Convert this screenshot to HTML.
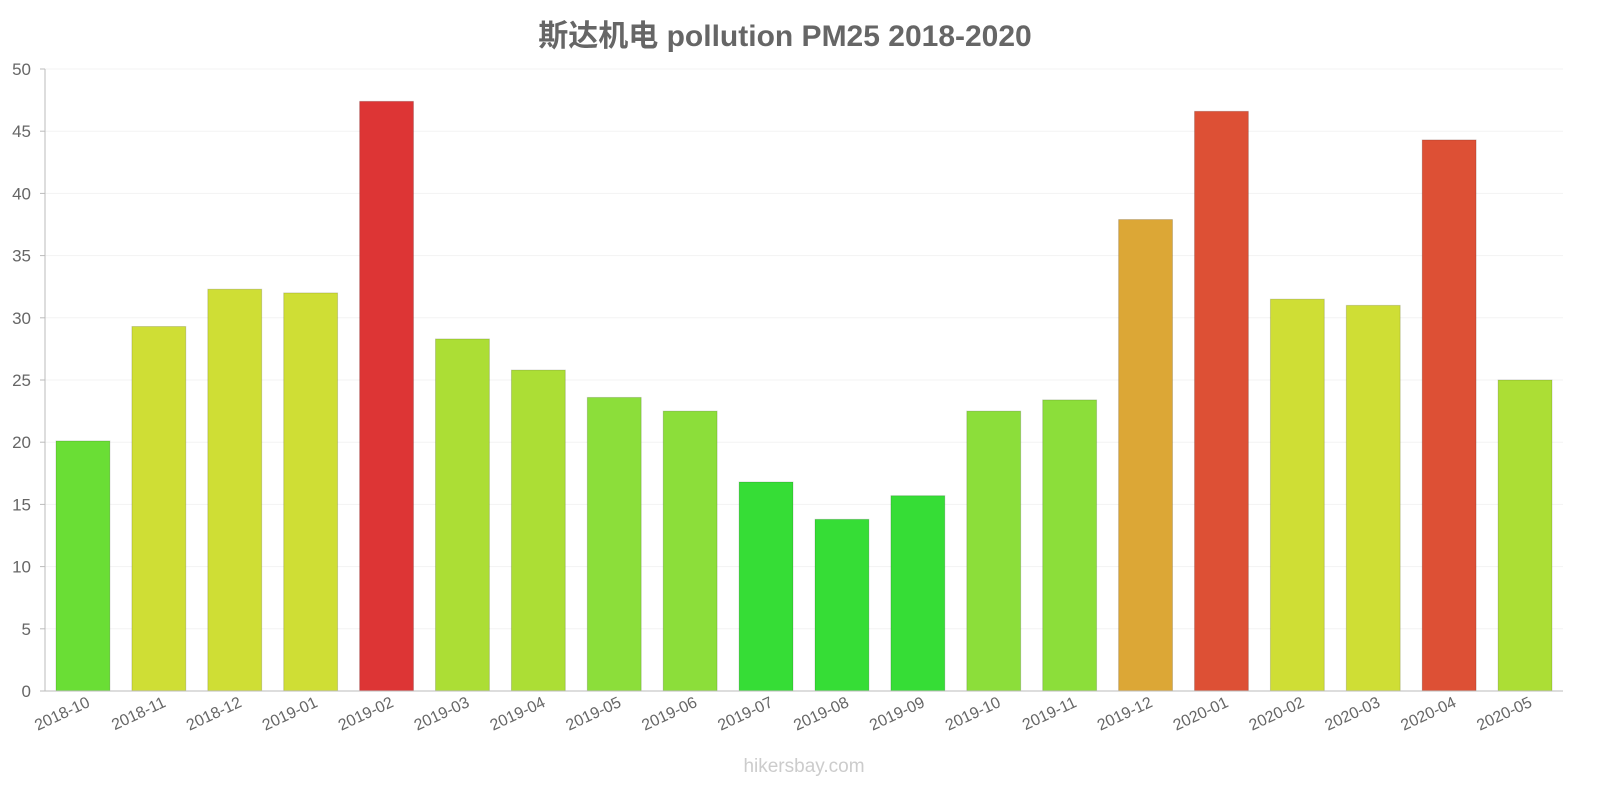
<!DOCTYPE html>
<html><head><meta charset="utf-8"><style>
html,body{margin:0;padding:0;background:#fff;}
svg{display:block;font-family:"Liberation Sans","Noto Sans CJK SC",sans-serif;}
</style></head><body>
<svg id="chart" width="1600" height="800">
<text x="785" y="46" text-anchor="middle" font-size="30" font-weight="bold" fill="#666">斯达机电 pollution PM25 2018-2020</text>
<g id="grid"></g>
<g id="bars"></g>
<g id="xlabels"></g>
<g id="ylabels"></g>
<line x1="45" y1="69" x2="45" y2="691" stroke="#bbb"/>
<line x1="45" y1="691" x2="1563" y2="691" stroke="#bbb"/>
<text x="804" y="772" text-anchor="middle" font-size="19" fill="#ccc">hikersbay.com</text>
</svg>
<script>
const categories=["2018-10","2018-11","2018-12","2019-01","2019-02","2019-03","2019-04","2019-05","2019-06","2019-07","2019-08","2019-09","2019-10","2019-11","2019-12","2020-01","2020-02","2020-03","2020-04","2020-05"];
const values=[20.1,29.3,32.3,32.0,47.4,28.3,25.8,23.6,22.5,16.8,13.8,15.7,22.5,23.4,37.9,46.6,31.5,31.0,44.3,25.0];
const yTicks=[0,5,10,15,20,25,30,35,40,45,50];
const NS="http://www.w3.org/2000/svg";
const x0=45,x1=1563,yTop=69,yBot=691,yMax=50;
const band=(x1-x0)/categories.length;
function yScale(v){return yBot-(v/yMax)*(yBot-yTop);}
function xScale(i){return x0+i*band;}
function colorFor(v){
  if(v>=44)return v>=47?"#dd3535":"#dd5035";
  if(v>=35)return "#dca736";
  if(v>=29)return "#cfde35";
  if(v>=24.5)return "#acde35";
  if(v>=21)return "#8cde3a";
  if(v>=18)return "#6ade35";
  return "#36dd36";
}
const grid=document.getElementById('grid'),ylab=document.getElementById('ylabels');
yTicks.forEach(t=>{
  const y=yScale(t);
  const l=document.createElementNS(NS,'line');
  l.setAttribute('x1',x0);l.setAttribute('x2',x1);l.setAttribute('y1',y);l.setAttribute('y2',y);
  l.setAttribute('stroke','#f3f3f3');
  
  
  grid.appendChild(l);
  const tk=document.createElementNS(NS,'line');
  tk.setAttribute('x1',x0-5);tk.setAttribute('x2',x0);tk.setAttribute('y1',y);tk.setAttribute('y2',y);
  tk.setAttribute('stroke','#bbb');
  
  
  grid.appendChild(tk);
  const tx=document.createElementNS(NS,'text');
  tx.setAttribute('x',x0-14);tx.setAttribute('y',y+6);tx.setAttribute('text-anchor','end');
  tx.setAttribute('font-size','17');tx.setAttribute('fill','#666');
  tx.textContent=t;
  
  
  ylab.appendChild(tx);
});
const bars=document.getElementById('bars'),xl=document.getElementById('xlabels');
values.forEach((v,i)=>{
  const bx=xScale(i)+11,bw=band-22,y=yScale(v);
  const c=colorFor(v);
  const r=document.createElementNS(NS,'rect');
  r.setAttribute('x',bx);r.setAttribute('y',y);r.setAttribute('width',bw);r.setAttribute('height',yBot-y);
  r.setAttribute('fill',c);r.setAttribute('stroke','rgba(0,0,0,0.15)');
  
  
  bars.appendChild(r);
  const cx=xScale(i)+band/2;
  const tx=document.createElementNS(NS,'text');
  tx.setAttribute('x',cx+8);tx.setAttribute('y',706);tx.setAttribute('text-anchor','end');
  tx.setAttribute('font-size','16');tx.setAttribute('fill','#666');
  tx.setAttribute('transform','rotate(-25 '+(cx+8)+' 706)');
  tx.textContent=categories[i];
  
  
  xl.appendChild(tx);
});
</script>
</body></html>
